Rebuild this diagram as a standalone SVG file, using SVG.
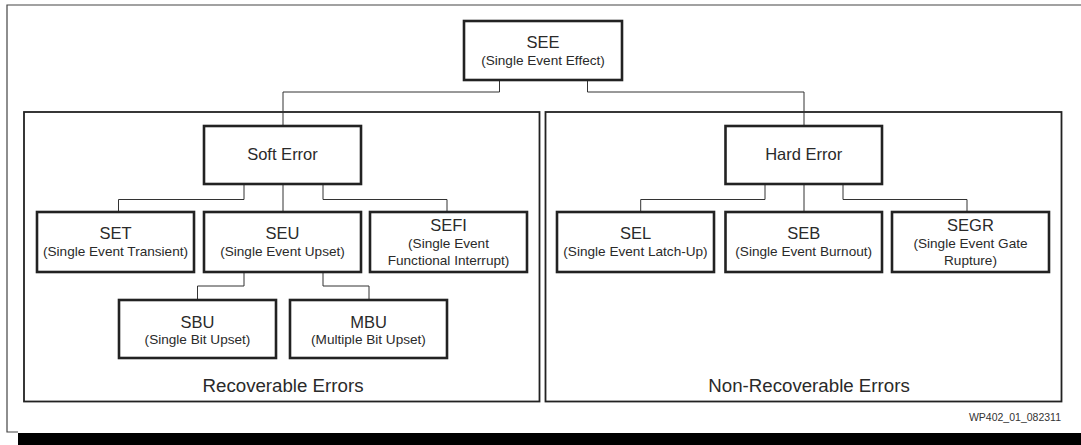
<svg xmlns="http://www.w3.org/2000/svg" width="1081" height="445" viewBox="0 0 1081 445">
  <style>
    text { font-family: "Liberation Sans", Arial, sans-serif; fill: #2a2a2a; text-anchor: middle; }
    .title { font-size: 16.5px; }
    .sub { font-size: 13.6px; }
    .region-label { font-size: 18.7px; }
    .tag { font-size: 10.5px; text-anchor: end; fill: #333; }
    .node rect { fill: #fff; stroke: #222; stroke-width: 2.6; }
    .region { fill: none; stroke: #222; stroke-width: 1.8; }
    .frame { fill: none; stroke: #444; stroke-width: 1.2; }
    .wire { fill: none; stroke: #333; stroke-width: 1; }
  </style>

  <rect width="1081" height="445" fill="#fff"/>

  <!-- outer frame (open on the right, cut by the bottom band) -->
  <path class="frame" d="M1081 5 H7 V432 H18"/>

  <!-- region boxes -->
  <g id="recoverable">
    <rect class="region" x="24" y="112" width="515.5" height="289.5"/>
    <text class="region-label" x="283" y="391.5">Recoverable Errors</text>
  </g>
  <g id="non-recoverable">
    <rect class="region" x="545.5" y="112" width="516" height="289.5"/>
    <text class="region-label" x="809" y="391.5">Non-Recoverable Errors</text>
  </g>

  <!-- connectors -->
  <g id="connectors">
    <path class="wire" d="M499.5 80 V92 H283 V126"/>
    <path class="wire" d="M587.5 80 V92 H804 V126"/>
    <!-- Soft Error children -->
    <path class="wire" d="M244 184 V199.5 H118.5 V212"/>
    <path class="wire" d="M283 184 V212"/>
    <path class="wire" d="M323 184 V199.5 H447 V212"/>
    <!-- SEU children -->
    <path class="wire" d="M244 272 V286 H197.5 V300"/>
    <path class="wire" d="M323 272 V286 H369 V300"/>
    <!-- Hard Error children -->
    <path class="wire" d="M765 184 V199.5 H640.7 V212"/>
    <path class="wire" d="M804 184 V212"/>
    <path class="wire" d="M843 184 V199.5 H967 V212"/>
  </g>

  <!-- nodes -->
  <g id="see" class="node">
    <rect x="464" y="21" width="158" height="59"/>
    <text class="title" x="543" y="48">SEE</text>
    <text class="sub" x="543" y="64.5">(Single Event Effect)</text>
  </g>

  <g id="soft-error" class="node">
    <rect x="204" y="126" width="157" height="58"/>
    <text class="title" x="282.5" y="159.5">Soft Error</text>
  </g>

  <g id="hard-error" class="node">
    <rect x="725.5" y="126" width="156.5" height="58"/>
    <text class="title" x="803.7" y="159.5">Hard Error</text>
  </g>

  <g id="set" class="node">
    <rect x="37" y="212" width="157" height="60"/>
    <text class="title" x="115.5" y="239">SET</text>
    <text class="sub" x="115.5" y="255.5">(Single Event Transient)</text>
  </g>

  <g id="seu" class="node">
    <rect x="204" y="212" width="157" height="60"/>
    <text class="title" x="282.5" y="239">SEU</text>
    <text class="sub" x="282.5" y="255.5">(Single Event Upset)</text>
  </g>

  <g id="sefi" class="node">
    <rect x="370" y="212" width="157" height="60"/>
    <text class="title" x="448.5" y="231">SEFI</text>
    <text class="sub" x="448.5" y="248">(Single Event</text>
    <text class="sub" x="448.5" y="265">Functional Interrupt)</text>
  </g>

  <g id="sbu" class="node">
    <rect x="119" y="300" width="157" height="58"/>
    <text class="title" x="197.5" y="327.5">SBU</text>
    <text class="sub" x="197.5" y="344">(Single Bit Upset)</text>
  </g>

  <g id="mbu" class="node">
    <rect x="290" y="300" width="157" height="58"/>
    <text class="title" x="368.5" y="327.5">MBU</text>
    <text class="sub" x="368.5" y="344">(Multiple Bit Upset)</text>
  </g>

  <g id="sel" class="node">
    <rect x="557" y="212" width="157" height="60"/>
    <text class="title" x="635.5" y="239">SEL</text>
    <text class="sub" x="635.5" y="255.5">(Single Event Latch-Up)</text>
  </g>

  <g id="seb" class="node">
    <rect x="725.5" y="212" width="156.5" height="60"/>
    <text class="title" x="803.7" y="239">SEB</text>
    <text class="sub" x="803.7" y="255.5">(Single Event Burnout)</text>
  </g>

  <g id="segr" class="node">
    <rect x="892" y="212" width="157" height="60"/>
    <text class="title" x="970.5" y="231">SEGR</text>
    <text class="sub" x="970.5" y="248">(Single Event Gate</text>
    <text class="sub" x="970.5" y="265">Rupture)</text>
  </g>

  <!-- figure tag -->
  <text class="tag" x="1061" y="420.5">WP402_01_082311</text>

  <!-- bottom band -->
  <rect x="18" y="433" width="1063" height="12" fill="#000"/>
</svg>
